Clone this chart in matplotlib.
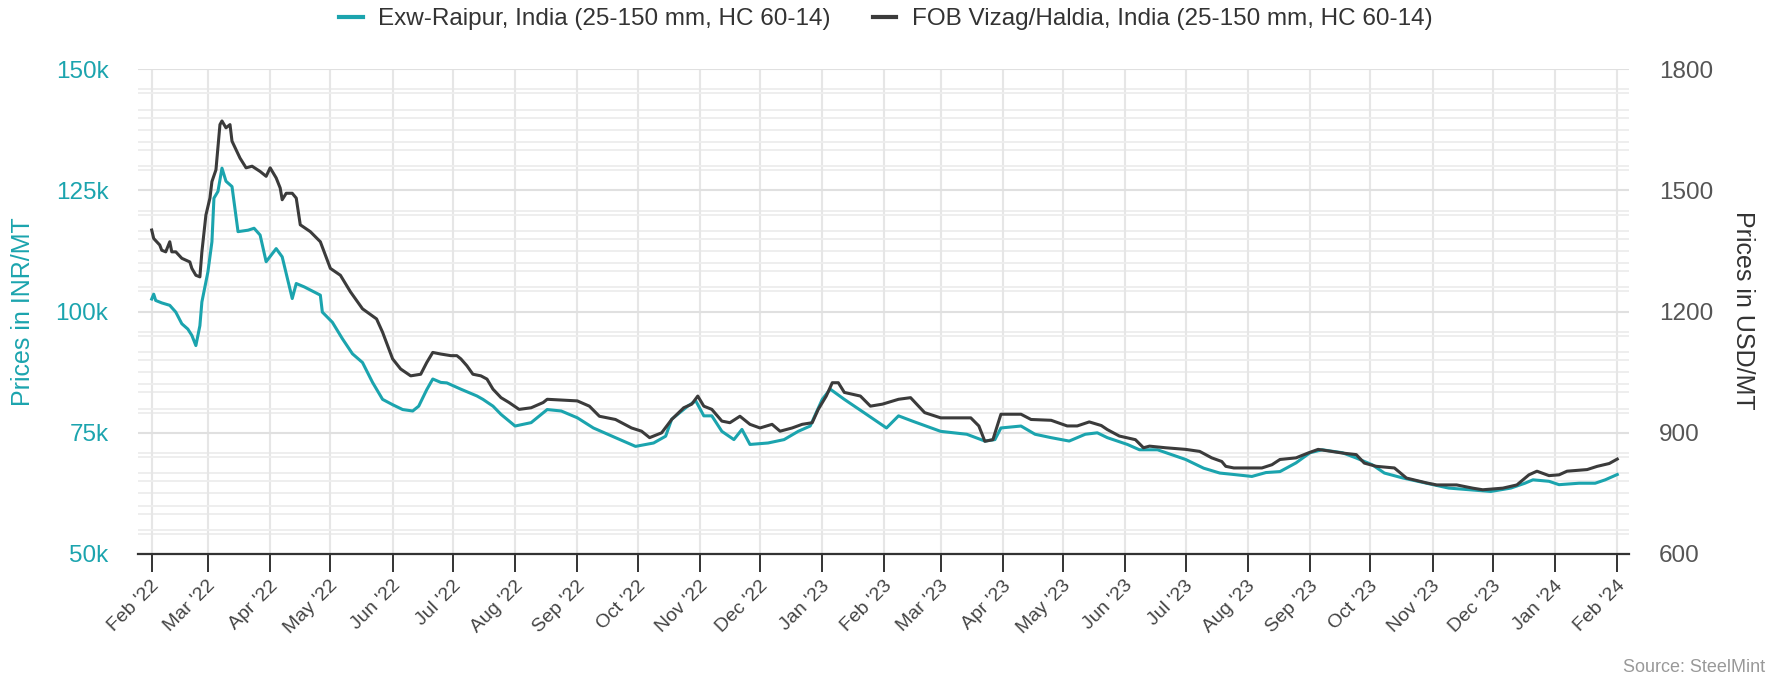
import matplotlib
matplotlib.use('Agg')
import matplotlib.pyplot as plt
import matplotlib.dates as mdates
import matplotlib.transforms as mtransforms
from matplotlib.ticker import MultipleLocator, FuncFormatter
from matplotlib.lines import Line2D
import numpy as np
import pandas as pd

plt.rcParams['font.family'] = 'sans-serif'
plt.rcParams['font.sans-serif'] = ['Liberation Sans', 'DejaVu Sans']

# data, x as days after 1 Feb 2022
start_date = pd.Timestamp('2022-02-01')

raipur_days = [0, 1, 2, 5, 9, 12, 15, 18, 20, 22,
               24, 25, 28, 30, 31, 33, 35, 37, 40, 43,
               48, 51, 54, 57, 62, 65, 70, 72, 76, 84,
               85, 90, 95, 100, 105, 110, 115, 120, 125, 130,
               133, 137, 140, 144, 147, 154, 162, 165, 170, 174,
               181, 189, 197, 204, 212, 220, 231, 241, 250, 256,
               259, 267, 271, 275, 279, 284, 290, 294, 298, 307,
               315, 322, 328, 334, 338, 345, 355, 366, 372, 379,
               393, 406, 415, 420, 423, 433, 440, 448, 457, 465,
               471, 476, 486, 492, 501, 515, 524, 532, 539, 548,
               555, 562, 570, 577, 583, 593, 600, 608, 614, 623,
               635, 646, 658, 667, 677, 684, 688, 696, 701, 711,
               719, 724, 730]
raipur_inr_k = [102.6, 103.6, 102.3, 101.8, 101.3, 99.9, 97.5, 96.4, 95.1, 93.0,
                97.1, 102.0, 108.2, 114.4, 123.4, 124.8, 129.6, 126.9, 125.8, 116.5,
                116.8, 117.2, 115.8, 110.3, 113.0, 111.3, 102.7, 105.8, 105.1, 103.4,
                99.9, 97.8, 94.4, 91.3, 89.5, 85.4, 81.9, 80.8, 79.8, 79.5,
                80.5, 83.9, 86.1, 85.4, 85.3, 84.0, 82.6, 81.9, 80.5, 78.8,
                76.4, 77.1, 79.8, 79.5, 78.1, 76.0, 74.0, 72.2, 72.9, 74.3,
                77.8, 80.5, 81.6, 78.5, 78.5, 75.3, 73.6, 75.7, 72.6, 72.9,
                73.6, 75.3, 76.4, 81.9, 84.0, 81.9, 79.1, 76.0, 78.5, 77.4,
                75.3, 74.7, 73.3, 73.6, 76.0, 76.4, 74.7, 74.0, 73.3, 74.7,
                75.0, 74.0, 72.6, 71.5, 71.5, 69.5, 67.7, 66.7, 66.4, 66.0,
                66.8, 67.0, 68.8, 70.9, 71.5, 70.9, 69.8, 68.4, 66.7, 65.7,
                64.6, 63.6, 63.2, 62.9, 63.6, 64.6, 65.3, 65.0, 64.3, 64.6,
                64.6, 65.3, 66.4]

vizag_days = [0, 1, 4, 5, 7, 9, 10, 12, 15, 19,
              20, 22, 24, 25, 27, 29, 30, 32, 34, 35,
              37, 39, 40, 44, 47, 50, 54, 57, 59, 62,
              64, 65, 67, 70, 72, 74, 79, 84, 89, 94,
              99, 105, 112, 115, 120, 124, 129, 134, 137, 140,
              144, 149, 152, 154, 157, 160, 164, 167, 170, 174,
              178, 183, 189, 195, 197, 212, 218, 223, 231, 239,
              244, 248, 254, 259, 265, 269, 272, 275, 279, 284,
              288, 293, 298, 303, 309, 313, 319, 324, 329, 332,
              336, 339, 342, 345, 353, 358, 364, 372, 378, 385,
              393, 408, 412, 415, 419, 423, 433, 438, 448, 456,
              461, 467, 473, 476, 482, 490, 494, 497, 505, 515,
              522, 528, 533, 535, 539, 553, 558, 562, 570, 576,
              581, 593, 600, 604, 610, 619, 625, 635, 640, 650,
              658, 663, 673, 680, 686, 690, 696, 701, 705, 715,
              720, 726, 730]
vizag_usd = [1402, 1381, 1365, 1352, 1348, 1373, 1348, 1348, 1332, 1323,
             1307, 1290, 1286, 1348, 1439, 1481, 1522, 1551, 1663, 1672,
             1655, 1663, 1622, 1580, 1556, 1560, 1547, 1535, 1556, 1531,
             1506, 1477, 1493, 1493, 1481, 1415, 1398, 1373, 1307, 1290,
             1249, 1207, 1182, 1149, 1083, 1058, 1041, 1045, 1074, 1099,
             1095, 1091, 1091, 1083, 1066, 1045, 1041, 1033, 1008, 987,
             975, 958, 962, 975, 983, 979, 966, 941, 933, 912,
             904, 888, 900, 933, 962, 971, 991, 966, 958, 929,
             925, 941, 921, 912, 921, 904, 912, 921, 925, 958,
             991, 1024, 1024, 1000, 991, 966, 971, 983, 987, 950,
             937, 937, 917, 879, 883, 946, 946, 933, 931, 917,
             917, 927, 918, 908, 892, 883, 863, 867, 863, 859,
             854, 838, 829, 817, 813, 813, 821, 834, 838, 850,
             859, 850, 846, 825, 817, 813, 788, 776, 771, 771,
             763, 759, 763, 771, 796, 805, 794, 796, 805, 809,
             817, 824, 835]

series_labels = ['Exw-Raipur, India (25-150 mm, HC 60-14)',
                 'FOB Vizag/Haldia, India (25-150 mm, HC 60-14)']

teal = '#1ba4ae'
dark = '#3b3b3b'

raipur_dates = start_date + pd.to_timedelta(raipur_days, unit='D')
vizag_dates = start_date + pd.to_timedelta(vizag_days, unit='D')

fig = plt.figure(figsize=(17.83, 6.79), dpi=100)
ax = fig.add_axes([0.0772, 0.1841, 0.8366, 0.7139])
ax2 = ax.twinx()

ax.set_xlim(start_date - pd.Timedelta(days=7), pd.Timestamp('2024-02-01') + pd.Timedelta(days=6))
ax.set_ylim(50, 150)
ax2.set_ylim(600, 1800)

# grid lines (left axis minors every 5k, right axis minors every 50)
ax.set_axisbelow(True)
ax.yaxis.set_major_locator(MultipleLocator(25))
ax.yaxis.set_minor_locator(MultipleLocator(5))
ax.grid(which='major', axis='y', color='#e0e0e0', linewidth=1.5)
ax.grid(which='minor', axis='y', color='#ededed', linewidth=1.3)
ax.grid(which='major', axis='x', color='#e6e6e6', linewidth=1.5)
for usd in np.arange(650, 1800, 50):
    if usd % 300:
        ax.axhline(50 + (usd - 600) / 12.0, color='#ededed', linewidth=1.3, zorder=0.5)

ax.plot(raipur_dates, raipur_inr_k, color=teal, linewidth=2.2, zorder=3)
ax2.plot(vizag_dates, vizag_usd, color=dark, linewidth=2.2, zorder=3)

# x axis
ax.xaxis.set_major_locator(mdates.MonthLocator())
ax.xaxis.set_major_formatter(mdates.DateFormatter("%b '%y"))
ax.tick_params(axis='x', direction='out', length=13, width=1.4, color='#333333',
               labelsize=14, labelcolor='#444444', pad=8)
shift = mtransforms.ScaledTranslation(5 / 100, 0, fig.dpi_scale_trans)
for lab in ax.get_xticklabels():
    lab.set_rotation(45)
    lab.set_ha('right')
    lab.set_va('center')
    lab.set_rotation_mode('anchor')
    lab.set_transform(lab.get_transform() + shift)

# y axes
ax.yaxis.set_major_formatter(FuncFormatter(lambda v, p: '%dk' % v))
ax.tick_params(axis='y', which='both', length=0, pad=21, labelsize=17.5, labelcolor=teal)
ax2.yaxis.set_major_locator(MultipleLocator(300))
ax2.tick_params(axis='y', which='both', length=0, pad=21.5, labelsize=17.5, labelcolor='#555555')

for a in (ax, ax2):
    for side in ('top', 'left', 'right'):
        a.spines[side].set_visible(False)
ax2.spines['bottom'].set_visible(False)
ax.spines['bottom'].set_color('#333333')
ax.spines['bottom'].set_linewidth(1.6)

fig.text(23 / 1783, 1 - 312 / 679, 'Prices in INR/MT', rotation=90, ha='center', va='center',
         fontsize=18, color=teal)
fig.text(1743 / 1783, 1 - 310 / 679, 'Prices in USD/MT', rotation=270, ha='center', va='center',
         fontsize=18, color='#333333')

handles = [Line2D([], [], color=teal, linewidth=3), Line2D([], [], color=dark, linewidth=3)]
fig.legend(handles, series_labels, loc='center', bbox_to_anchor=(0.497, 0.972), ncol=2,
           frameon=False, fontsize=17.5, handlelength=0.95, handletextpad=0.65,
           columnspacing=1.75, labelcolor='#333333')

fig.text(0.99, 0.017, 'Source: SteelMint', ha='right', va='center', fontsize=13, color='#999999')

fig.savefig('out.png', dpi=100)
